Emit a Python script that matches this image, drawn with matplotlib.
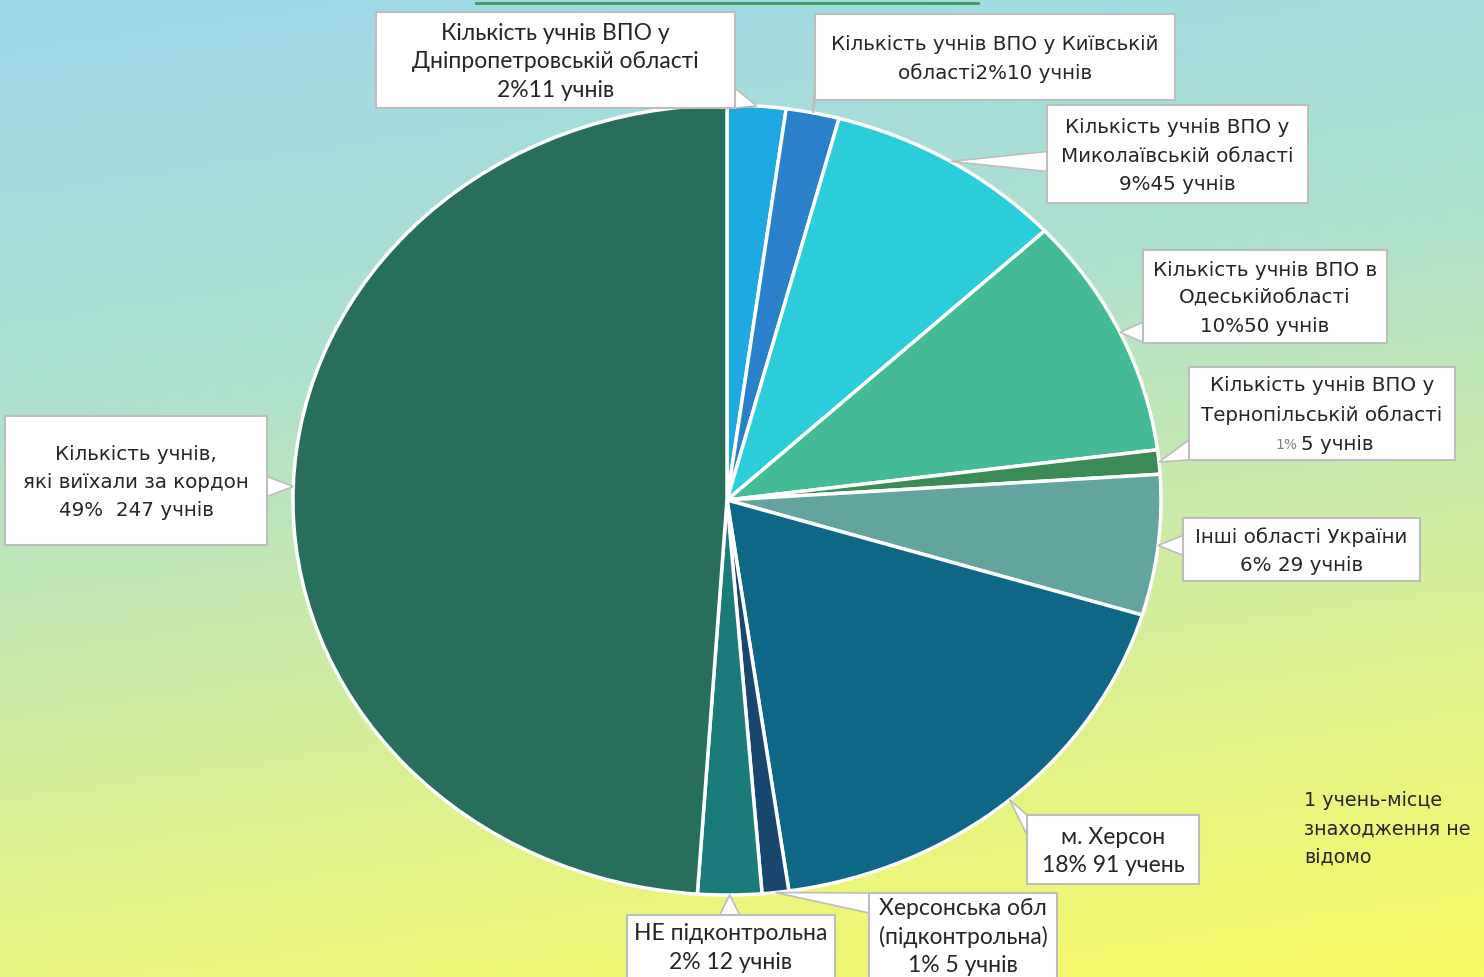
import numpy as np
import matplotlib.pyplot as plt
from matplotlib.patches import Rectangle, Polygon
from matplotlib.colors import to_rgb

# --- data (clockwise from top) ---
regions = ['Дніпропетровська', 'Київська', 'Миколаївська', 'Одеська', 'Тернопільська',
           'Інші області', 'м. Херсон', 'Херсонська обл', 'НЕ підконтрольна', 'За кордоном']
students = [11, 10, 45, 50, 5, 29, 91, 5, 12, 247]
colors = ['#1FA9E1', '#2A80C9', '#2ACDD9', '#45BA97', '#3A8B56',
          '#63A49F', '#0F6787', '#17466E', '#1A7B7A', '#276F5C']

label_texts = [
    'Кількість учнів ВПО у\nДніпропетровській області\n2%11 учнів',
    'Кількість учнів ВПО у Київській\nобласті2%10 учнів',
    'Кількість учнів ВПО у\nМиколаївській області\n9%45 учнів',
    'Кількість учнів ВПО в\nОдеськійобласті\n10%50 учнів',
    'Кількість учнів ВПО у\nТернопільській області',
    'Інші області України\n6% 29 учнів',
    'м. Херсон\n18% 91 учень',
    'Херсонська обл\n(підконтрольна)\n1% 5 учнів',
    'НЕ підконтрольна\n2% 12 учнів',
    'Кількість учнів,\nякі виїхали за кордон\n49%  247 учнів',
]
ternopil_pct, ternopil_count = '1%', '5 учнів'
note_text = '1 учень-місце\nзнаходження не\nвідомо'

# --- layout (pixels, y down) ---
W, H = 1484, 977
CX, CY, RX, RY = 727, 500, 434, 395
boxes = [(376, 12, 735, 108), (815, 14, 1175, 100), (1047, 105, 1308, 203),
         (1143, 250, 1387, 343), (1189, 367, 1455, 460), (1183, 518, 1420, 581),
         (1027, 815, 1199, 884), (869, 893, 1057, 985), (627, 915, 835, 985),
         (5, 416, 267, 545)]
calibri_like = {0, 6, 7, 8}
TXT = '#262626'
SANS = dict(family='DejaVu Sans', fontsize=14.3, linespacing=1.62)
CALI = dict(family='Lato', fontsize=16.5, linespacing=1.42)

fig = plt.figure(figsize=(W / 100, H / 100), dpi=100)

# background gradient, light blue top-left to yellow bottom-right
ax_bg = fig.add_axes([0, 0, 1, 1])
yy, xx = np.mgrid[0:1:200j, 0:1:300j]
t = np.clip(0.82 * yy + 0.18 * xx, 0, 1)
stops = [0, 0.35, 0.55, 0.8, 1]
stop_cols = np.array([to_rgb(c) for c in ['#9DD8EA', '#AEE1CF', '#C8EAAD', '#E6F483', '#FAFA66']])
img = np.dstack([np.interp(t, stops, stop_cols[:, k]) for k in range(3)])
ax_bg.imshow(img, extent=[0, 1, 0, 1], aspect='auto', origin='upper')
ax_bg.axis('off')

# pie, slightly wider than tall like the original
ax_pie = fig.add_axes([(CX - RX) / W, (H - CY - RY) / H, 2 * RX / W, 2 * RY / H])
wedges, _ = ax_pie.pie(students, colors=colors, startangle=90, counterclock=False,
                       wedgeprops=dict(edgecolor='white', linewidth=2.5))
for w in wedges:
    w.set_clip_on(False)
ax_pie.set_xlim(-1, 1)
ax_pie.set_ylim(-1, 1)
ax_pie.set_aspect('auto')
ax_pie.axis('off')

# overlay in pixel coordinates for labels
ax = fig.add_axes([0, 0, 1, 1])
ax.set_xlim(0, W)
ax.set_ylim(H, 0)
ax.axis('off')

# title underline (title itself is cut off at the top)
ax.plot([476, 978], [3, 3], color='#3C9A5A', lw=2)

for i, w in enumerate(wedges):
    mid = np.deg2rad((w.theta1 + w.theta2) / 2)
    disp = ax_pie.transData.transform((np.cos(mid), np.sin(mid)))
    axp, ayp = ax.transData.inverted().transform(disp)
    x0, y0, x1, y1 = boxes[i]

    # callout pointer: thin triangle from nearest box edge to the wedge
    if axp < x0 or axp > x1:
        ex = x0 if axp < x0 else x1
        cy = np.clip(ayp, y0 + 10, y1 - 10)
        base = [(ex, cy - 10), (ex, cy + 10)]
    else:
        ey = y1 if ayp > y1 else y0
        cx = np.clip(axp, x0 + 10, x1 - 10)
        base = [(cx - 10, ey), (cx + 10, ey)]
    ax.add_patch(Polygon(base + [(axp, ayp)], closed=True, fc='white',
                         ec='#BDBDBD', lw=1.2, zorder=2))
    ax.add_patch(Rectangle((x0, y0), x1 - x0, y1 - y0, fc='white',
                           ec='#BDBDBD', lw=1.5, zorder=3))

    tx, ty = (x0 + x1) / 2, (y0 + min(y1, H)) / 2 + 2
    style = CALI if i in calibri_like else SANS
    if i == 4:
        ty -= 15
    ax.text(tx, ty, label_texts[i], ha='center', va='center', color=TXT,
            zorder=4, **style)

# Ternopil third line: small grey percent + count
ax.text(1297, 445, ternopil_pct, ha='right', va='center', fontsize=10,
        color='#7F7F7F', zorder=4)
ax.text(1301, 444, ternopil_count, ha='left', va='center', color=TXT, zorder=4,
        family='DejaVu Sans', fontsize=14.3)

ax.text(1304, 791, note_text, ha='left', va='top', color=TXT, zorder=4,
        family='DejaVu Sans', fontsize=13.8, linespacing=1.62)

plt.savefig('out.png', dpi=100)
plt.close(fig)
